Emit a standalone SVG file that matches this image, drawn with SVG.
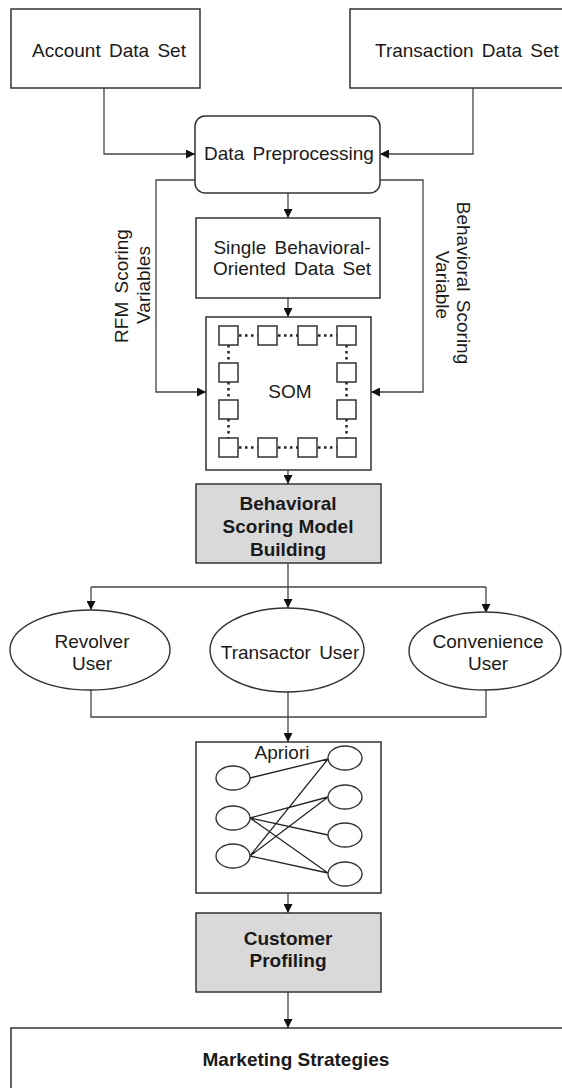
<svg xmlns="http://www.w3.org/2000/svg" width="562" height="1088" viewBox="0 0 562 1088">
<style>
.box{fill:#fff;stroke:#333;stroke-width:1.5}
.gray{fill:#d9d9d9;stroke:#333;stroke-width:1.5}
.t{font-family:"Liberation Sans",Arial,sans-serif;font-size:19px;fill:#1a1a1a;text-anchor:middle;word-spacing:3px}
.b{font-weight:bold;word-spacing:0}
.c{fill:none;stroke:#444;stroke-width:1.3}
.sq{fill:#fff;stroke:#333;stroke-width:1.5}
.dot{fill:none;stroke:#222;stroke-width:2.5;stroke-dasharray:2.5 3.5}
.el{fill:#fff;stroke:#333;stroke-width:1.4}
</style>
<defs>
<marker id="ah" markerUnits="userSpaceOnUse" markerWidth="9" markerHeight="9" refX="9" refY="4.5" orient="auto">
<path d="M0,0 L9,4.5 L0,9 z" fill="#111"/>
</marker>
</defs>
<rect width="562" height="1088" fill="#fff"/>

<g id="connectors">
<path class="c" d="M104,88 V154 H195" marker-end="url(#ah)"/>
<path class="c" d="M473,88 V154 H380" marker-end="url(#ah)"/>
<path class="c" d="M195,180 H156 V392 H206" marker-end="url(#ah)"/>
<path class="c" d="M380,180 H423 V392 H371" marker-end="url(#ah)"/>
<path class="c" d="M288,193 V218" marker-end="url(#ah)"/>
<path class="c" d="M288,298 V317" marker-end="url(#ah)"/>
<path class="c" d="M288,470 V484" marker-end="url(#ah)"/>
<path class="c" d="M288,563 V608" marker-end="url(#ah)"/>
<path class="c" d="M91,587 H486"/>
<path class="c" d="M91,587 V610" marker-end="url(#ah)"/>
<path class="c" d="M486,587 V613" marker-end="url(#ah)"/>
<path class="c" d="M91,690 V717 H486 V690"/>
<path class="c" d="M288,692 V742" marker-end="url(#ah)"/>
<path class="c" d="M288,893 V913" marker-end="url(#ah)"/>
<path class="c" d="M288,992 V1028" marker-end="url(#ah)"/>
</g>

<g id="account">
<rect class="box" x="11" y="9" width="189" height="79"/>
<text class="t" x="109" y="57">Account Data Set</text>
</g>

<g id="transaction">
<rect class="box" x="350" y="9" width="240" height="79"/>
<text class="t" x="375" y="57" style="text-anchor:start">Transaction Data Set</text>
</g>

<g id="preprocessing">
<rect class="box" x="195" y="116" width="185" height="77" rx="10"/>
<text class="t" x="289" y="160">Data Preprocessing</text>
</g>

<g id="rfm-label">
<text class="t" transform="translate(128,286) rotate(-90)">RFM Scoring</text>
<text class="t" transform="translate(150,285) rotate(-90)">Variables</text>
</g>

<g id="behavioral-label">
<text class="t" transform="translate(457,283) rotate(90)">Behavioral Scoring</text>
<text class="t" transform="translate(436,285) rotate(90)">Variable</text>
</g>

<g id="single">
<rect class="box" x="196" y="218" width="184" height="80"/>
<text class="t" x="292" y="254">Single Behavioral-</text>
<text class="t" x="292" y="275">Oriented Data Set</text>
</g>

<g id="som">
<rect class="box" x="206" y="317" width="165" height="153"/>
<path class="dot" d="M239,335.5 H258 M278,335.5 H298 M318,335.5 H337 M239,447.5 H258 M278,447.5 H298 M318,447.5 H337 M228.5,345 V363 M228.5,382 V400 M228.5,419 V438 M346.5,345 V363 M346.5,382 V400 M346.5,419 V438"/>
<rect class="sq" x="219" y="326" width="19" height="19"/>
<rect class="sq" x="258" y="326" width="19" height="19"/>
<rect class="sq" x="298" y="326" width="19" height="19"/>
<rect class="sq" x="337" y="326" width="19" height="19"/>
<rect class="sq" x="219" y="363" width="19" height="19"/>
<rect class="sq" x="337" y="363" width="19" height="19"/>
<rect class="sq" x="219" y="400" width="19" height="19"/>
<rect class="sq" x="337" y="400" width="19" height="19"/>
<rect class="sq" x="219" y="438" width="19" height="19"/>
<rect class="sq" x="258" y="438" width="19" height="19"/>
<rect class="sq" x="298" y="438" width="19" height="19"/>
<rect class="sq" x="337" y="438" width="19" height="19"/>
<text class="t" x="290" y="398">SOM</text>
</g>

<g id="bsmb">
<rect class="gray" x="196" y="484" width="185" height="79"/>
<text class="t b" x="288" y="510">Behavioral</text>
<text class="t b" x="288" y="533">Scoring Model</text>
<text class="t b" x="288" y="556">Building</text>
</g>

<g id="revolver">
<ellipse class="el" cx="90" cy="650" rx="80" ry="40"/>
<text class="t" x="92" y="648">Revolver</text>
<text class="t" x="92" y="670">User</text>
</g>

<g id="transactor">
<ellipse class="el" cx="287" cy="650" rx="77" ry="42"/>
<text class="t" x="290" y="659">Transactor User</text>
</g>

<g id="convenience">
<ellipse class="el" cx="485" cy="651" rx="76" ry="39"/>
<text class="t" x="488" y="648">Convenience</text>
<text class="t" x="488" y="670">User</text>
</g>

<g id="apriori">
<rect class="box" x="196" y="742" width="185" height="151"/>
<text class="t" x="282" y="759">Apriori</text>
<g fill="none" stroke="#222" stroke-width="1.3">
<path d="M250,778 L328,759 M250,818 L328,797 M250,818 L328,835 M250,818 L328,873 M250,856 L328,759 M250,856 L328,797 M250,856 L328,873"/>
</g>
<ellipse class="el" cx="233" cy="778" rx="17" ry="12"/>
<ellipse class="el" cx="233" cy="818" rx="17" ry="12"/>
<ellipse class="el" cx="233" cy="856" rx="17" ry="12"/>
<ellipse class="el" cx="345" cy="758" rx="17" ry="12"/>
<ellipse class="el" cx="345" cy="797" rx="17" ry="12"/>
<ellipse class="el" cx="345" cy="835" rx="17" ry="12"/>
<ellipse class="el" cx="345" cy="874" rx="17" ry="12"/>
</g>

<g id="profiling">
<rect class="gray" x="196" y="913" width="185" height="79"/>
<text class="t b" x="288" y="945">Customer</text>
<text class="t b" x="288" y="967">Profiling</text>
</g>

<g id="marketing">
<rect class="box" x="11" y="1028" width="600" height="100"/>
<text class="t b" x="296" y="1066">Marketing Strategies</text>
</g>
</svg>
